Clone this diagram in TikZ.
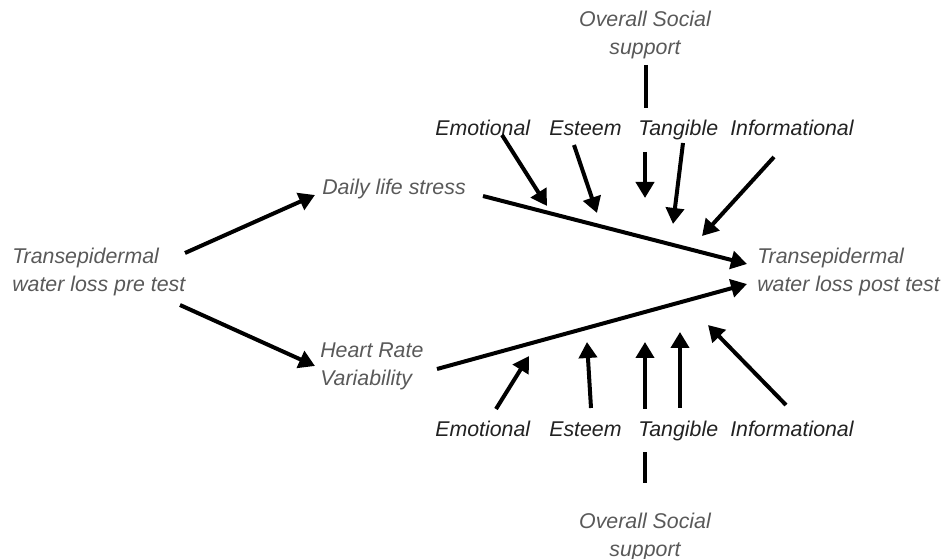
\documentclass[tikz,border=0pt]{standalone}
\usepackage{fontspec}
\setmainfont{Liberation Sans}
\usetikzlibrary{arrows.meta}
\definecolor{varcol}{HTML}{595959}
\definecolor{supcol}{HTML}{222222}
\begin{document}
\begin{tikzpicture}[x=0.75pt,y=-0.75pt,
  lbl/.style={inner sep=0pt,font=\fontsize{16pt}{21pt}\selectfont\itshape},
  varlbl/.style={lbl,text=varcol,align=left,anchor=west},
  suplbl/.style={lbl,text=supcol,anchor=base west},
  ovlbl/.style={lbl,text=varcol,align=center},
  arr/.style={line width=3pt,-{Triangle[length=12pt,width=13.5pt]}},
  bar/.style={line width=3pt}]
\useasboundingbox (0,0) rectangle (946,559);
% variable labels
\node[varlbl] (pre) at (12,272) {Transepidermal\\water loss pre test};
\node[varlbl] (dls) at (322,189) {Daily life stress};
\node[varlbl] (hrv) at (320,366) {Heart Rate\\Variability};
\node[varlbl] (post) at (757,272) {Transepidermal\\water loss post test};
\node[ovlbl] (ovt) at (645,35) {Overall Social\\support};
\node[ovlbl] (ovb) at (645,537) {Overall Social\\support};
% support labels top
\node[suplbl] (emt) at (435,136) {Emotional};
\node[suplbl] (est) at (549,136) {Esteem};
\node[suplbl] (tat) at (638,136) {Tangible};
\node[suplbl] (int) at (730,136) {Informational};
% support labels bottom
\node[suplbl] (emb) at (435,436) {Emotional};
\node[suplbl] (esb) at (549,436) {Esteem};
\node[suplbl] (tab) at (638,436) {Tangible};
\node[suplbl] (inb) at (730,436) {Informational};
% connector end points
\coordinate (p1s) at (185,253); \coordinate (p1e) at (315,195);
\coordinate (p2s) at (180,305); \coordinate (p2e) at (315,366);
\coordinate (d1s) at (483,196); \coordinate (d1e) at (747,264);
\coordinate (h1s) at (437,369); \coordinate (h1e) at (747,284);
% top arrows
\coordinate (te1s) at (502,135); \coordinate (te1e) at (547,206);
\coordinate (te2s) at (574,145); \coordinate (te2e) at (597,213);
\coordinate (tt1s) at (645,152); \coordinate (tt1e) at (645,198);
\coordinate (tt2s) at (683,143); \coordinate (tt2e) at (673,224);
\coordinate (ti1s) at (774,157); \coordinate (ti1e) at (702,236);
\coordinate (tos) at (646,65); \coordinate (toe) at (646,108);
% bottom arrows
\coordinate (be1s) at (496,409); \coordinate (be1e) at (529,356);
\coordinate (be2s) at (591,408); \coordinate (be2e) at (587,342);
\coordinate (bt1s) at (645,409); \coordinate (bt1e) at (645,342);
\coordinate (bt2s) at (680,408); \coordinate (bt2e) at (680,332);
\coordinate (bi1s) at (786,405); \coordinate (bi1e) at (708,325);
\coordinate (bos) at (645,452); \coordinate (boe) at (645,483);
% main paths
\draw[arr] (p1s) -- (p1e);
\draw[arr] (p2s) -- (p2e);
\draw[arr] (d1s) -- (d1e);
\draw[arr] (h1s) -- (h1e);
% top support
\draw[arr] (te1s) -- (te1e);
\draw[arr] (te2s) -- (te2e);
\draw[arr] (tt1s) -- (tt1e);
\draw[arr] (tt2s) -- (tt2e);
\draw[arr] (ti1s) -- (ti1e);
\draw[bar] (tos) -- (toe);
% bottom support
\draw[arr] (be1s) -- (be1e);
\draw[arr] (be2s) -- (be2e);
\draw[arr] (bt1s) -- (bt1e);
\draw[arr] (bt2s) -- (bt2e);
\draw[arr] (bi1s) -- (bi1e);
\draw[bar] (bos) -- (boe);
\end{tikzpicture}
\end{document}
